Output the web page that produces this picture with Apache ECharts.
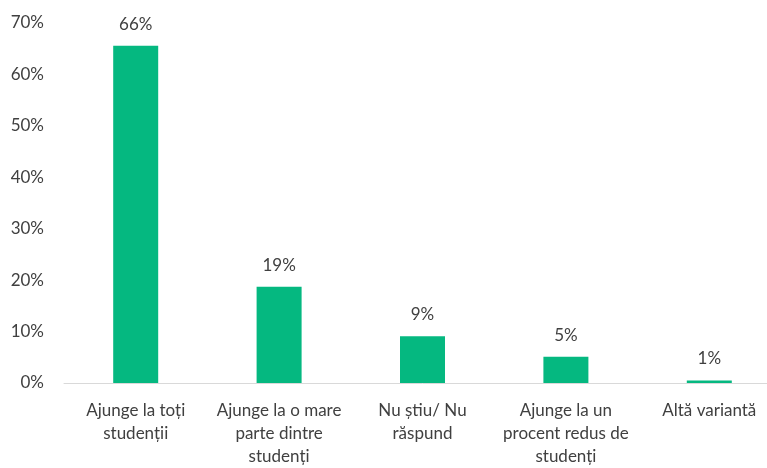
<!DOCTYPE html>
<html>
<head>
<meta charset="utf-8">
<script src="https://cdn.jsdelivr.net/npm/echarts@6/dist/echarts.min.js"></script>
<style>
html,body{margin:0;padding:0;background:#fff;overflow:hidden;}
#wrap{width:767px;height:468px;overflow:hidden;}
#chart{width:782px;height:468px;}
</style>
</head>
<body>
<div id="wrap"><div id="chart"></div></div>
<script>
const categories = [
  "Ajunge la toți\nstudenții",
  "Ajunge la o mare\nparte dintre\nstudenți",
  "Nu știu/ Nu\nrăspund",
  "Ajunge la un\nprocent redus de\nstudenți",
  "Altă variantă"
];
const values = [65.6, 18.7, 9.1, 5.1, 0.5];
const yTicks = { min: 0, max: 70, interval: 10 };

const FONT = 'Lato';
const TEXT = '#404040';
const chart = echarts.init(document.getElementById('chart'), null, { renderer: 'canvas' });
chart.setOption({
  animation: false,
  backgroundColor: '#ffffff',
  grid: { left: 64, top: 23, right: 1, height: 360, containLabel: false },
  xAxis: {
    type: 'category',
    data: categories,
    axisLine: { show: true, lineStyle: { color: '#d9d9d9', width: 1 } },
    axisTick: { show: false },
    axisLabel: {
      interval: 0, margin: 16, color: TEXT, fontFamily: FONT, fontSize: 17, lineHeight: 23
    }
  },
  yAxis: {
    type: 'value',
    min: yTicks.min, max: yTicks.max, interval: yTicks.interval,
    axisLine: { show: false },
    axisTick: { show: false },
    splitLine: { show: false },
    axisLabel: { formatter: '{value}%', margin: 20, color: TEXT, fontFamily: FONT, fontSize: 17 }
  },
  series: [{
    type: 'bar',
    data: values,
    barWidth: 45,
    itemStyle: { color: '#05b880' },
    label: {
      show: true, position: 'top', distance: 13,
      color: TEXT, fontFamily: FONT, fontSize: 17,
      formatter: p => Math.round(p.value) + '%'
    }
  }]
});
</script>
</body>
</html>
